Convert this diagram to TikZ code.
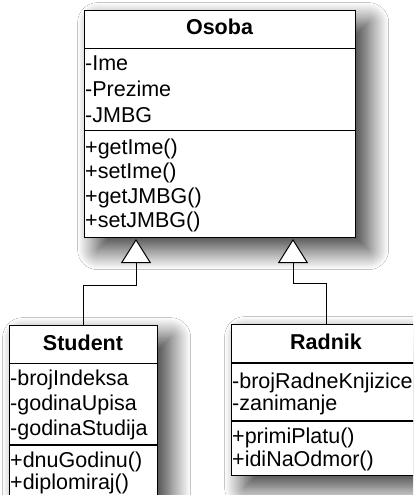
\documentclass[tikz,border=0pt]{standalone}
\usepackage{fontspec}
\setmainfont{Liberation Sans}
\usetikzlibrary{arrows.meta,shadows.blur}

\tikzset{
  classbox/.style={draw=black, fill=white, line width=1.3pt, inner sep=0pt, anchor=north west,
    blur shadow={shadow xshift=13pt, shadow yshift=-12pt, shadow blur radius=20pt, shadow opacity=80, shadow blur steps=25}},
  sepline/.style={line width=1.3pt},
  classname/.style={anchor=base, inner sep=0pt, font=\fontsize{21.5}{25}\selectfont\bfseries},
  member/.style={anchor=base west, inner sep=0pt, font=\fontsize{21.5}{25}\selectfont},
  inherit/.style={line width=1pt, -{Triangle[length=24pt, width=30pt, fill=white]}}
}

\begin{document}
\begin{tikzpicture}[x=1pt, y=-1pt]
\clip (0,0) rectangle (413,495);
\fill[white] (0,0) rectangle (413,495);

% Osoba — base class
\node[classbox, minimum width=271, minimum height=227] (osoba) at (84,10) {};
\draw[sepline] (84,48.3) -- (355,48.3);
\draw[sepline] (84,130.7) -- (355,130.7);
\node[classname] (osName) at (219.5,35) {Osoba};
\node[member] (osIme) at (85,70.7) {-Ime};
\node[member] (osPrezime) at (85,96.7) {-Prezime};
\node[member] (osJmbg) at (85,122) {-JMBG};
\node[member] (osGetIme) at (85,154) {+getIme()};
\node[member] (osSetIme) at (85,178) {+setIme()};
\node[member] (osGetJmbg) at (85,203) {+getJMBG()};
\node[member] (osSetJmbg) at (85,227) {+setJMBG()};

% Student — left subclass
\node[classbox, minimum width=148, minimum height=175] (student) at (9,325) {};
\draw[sepline] (9,363.3) -- (157,363.3);
\draw[sepline] (9,445) -- (157,445);
\node[classname] (stName) at (83,350) {Student};
\node[member] (stIndeks) at (10,385) {-brojIndeksa};
\node[member] (stUpis) at (10,410) {-godinaUpisa};
\node[member] (stStudija) at (10,435) {-godinaStudija};
\node[member] (stGodina) at (10,467) {+dnuGodinu()};
\node[member] (stDiplom) at (10,489) {+diplomiraj()};

% Radnik — right subclass
\node[classbox, minimum width=190, minimum height=151] (radnik) at (231,324) {};
\draw[sepline] (231,363) -- (421,363);
\draw[sepline] (231,421) -- (421,421);
\node[classname] (raName) at (326,349) {Radnik};
\node[member] (raKnjizica) at (232,388) {-brojRadneKnjizice};
\node[member] (raZanimanje) at (232,410) {-zanimanje};
\node[member] (raPlata) at (232,443) {+primiPlatu()};
\node[member] (raOdmor) at (232,466) {+idiNaOdmor()};

% Generalization arrows
\coordinate (osL) at (136,239);
\coordinate (osR) at (293,239);
\draw[inherit] (student.north) -- ++(0,-40) -| (osL);
\draw[inherit] (radnik.north) -- ++(0,-41) -| (osR);
\end{tikzpicture}
\end{document}
